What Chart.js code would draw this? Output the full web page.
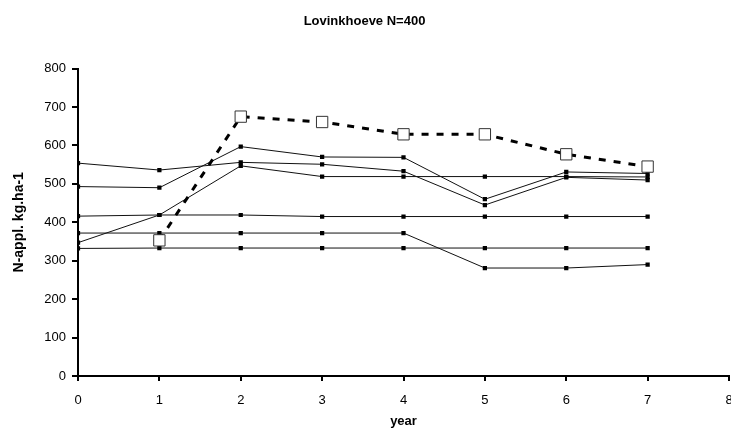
<!DOCTYPE html>
<html>
<head>
<meta charset="utf-8">
<script src="https://cdn.jsdelivr.net/npm/chart.js@4"></script>
<style>
  body { margin: 0; background: #fff; overflow: hidden; }
  #myChart { display: block; }
</style>
</head>
<body>
<canvas id="myChart" width="731" height="439"></canvas>
<script>
// years on the x axis
const years = [0, 1, 2, 3, 4, 5, 6, 7];

// N applied (kg/ha) per treatment
const seriesA = [554, 536, 556, 551, 533, 445, 517, 510];
const seriesB = [493, 490, 597, 570, 569, 460, 531, 527];
const seriesC = [347, 419, 547, 519, 519, 519, 519, 518];
const seriesD = [416, 419, 419, 415, 415, 415, 415, 415];
const seriesE = [372, 372, 372, 372, 372, 281, 281, 290];
const seriesF = [332, 333, 333, 333, 333, 333, 333, 333];
// dashed reference line (N=400), no value in year 0
const reference = [null, 353, 675, 661, 629, 629, 577, 545];

const xTicks = [0, 1, 2, 3, 4, 5, 6, 7, 8];
const yTicks = [0, 100, 200, 300, 400, 500, 600, 700, 800];

Chart.defaults.font.family = "'Liberation Sans', Arial, sans-serif";
Chart.defaults.font.size = 13;
Chart.defaults.color = '#000';

function toPoints(values) {
    return years.map((y, i) => ({ x: y, y: values[i] }));
}

function solid(values) {
    return {
        data: toPoints(values),
        borderColor: '#111',
        borderWidth: 1,
        pointStyle: 'rect',
        pointRadius: 3,
        pointBackgroundColor: '#000',
        pointBorderColor: '#000',
        pointBorderWidth: 0,
        tension: 0
    };
}

const datasets = [
    {
        data: toPoints(reference),
        borderColor: '#000',
        borderWidth: 3,
        borderDash: [7, 8],
        pointStyle: 'rect',
        pointRadius: 8,
        pointBackgroundColor: '#fff',
        pointBorderColor: '#333',
        pointBorderWidth: 1,
        spanGaps: false,
        tension: 0
    },
    solid(seriesA),
    solid(seriesB),
    solid(seriesC),
    solid(seriesD),
    solid(seriesE),
    solid(seriesF)
];

const config = {
    type: 'line',
    data: { datasets: datasets },
    options: {
        responsive: false,
        animation: false,
        layout: { autoPadding: false, padding: { left: 0, right: 2, top: 0, bottom: 0 } },
        plugins: {
            legend: { display: false },
            tooltip: { enabled: false },
            title: {
                display: true,
                text: 'Lovinkhoeve N=400',
                font: { size: 13, weight: 'bold' },
                color: '#000',
                padding: { top: 14, bottom: 39 }
            }
        },
        scales: {
            x: {
                type: 'linear',
                min: 0,
                max: 8,
                afterBuildTicks: s => { s.ticks = xTicks.map(v => ({ value: v })); },
                afterFit: s => { s.paddingRight = 0; s.height = 63; },
                ticks: { padding: 12, maxRotation: 0 },
                grid: { drawOnChartArea: false, drawTicks: true, tickLength: 5, color: '#000', lineWidth: 2 },
                border: { display: true, color: '#000', width: 2 },
                title: {
                    display: true,
                    text: 'year',
                    font: { size: 13, weight: 'bold' },
                    padding: { top: 0, bottom: 10 }
                }
            },
            y: {
                min: 0,
                max: 800,
                afterBuildTicks: s => { s.ticks = yTicks.map(v => ({ value: v })); },
                afterFit: s => { s.width = 78; },
                ticks: { padding: 6 },
                grid: { drawOnChartArea: false, drawTicks: true, tickLength: 6, color: '#000', lineWidth: 2 },
                border: { display: true, color: '#000', width: 2 },
                title: {
                    display: true,
                    text: 'N-appl. kg.ha-1',
                    font: { size: 14, weight: 'bold' },
                    padding: { top: 11, bottom: 0 }
                }
            }
        }
    }
};

const myChart = new Chart(document.getElementById('myChart'), config);
</script>
</body>
</html>
